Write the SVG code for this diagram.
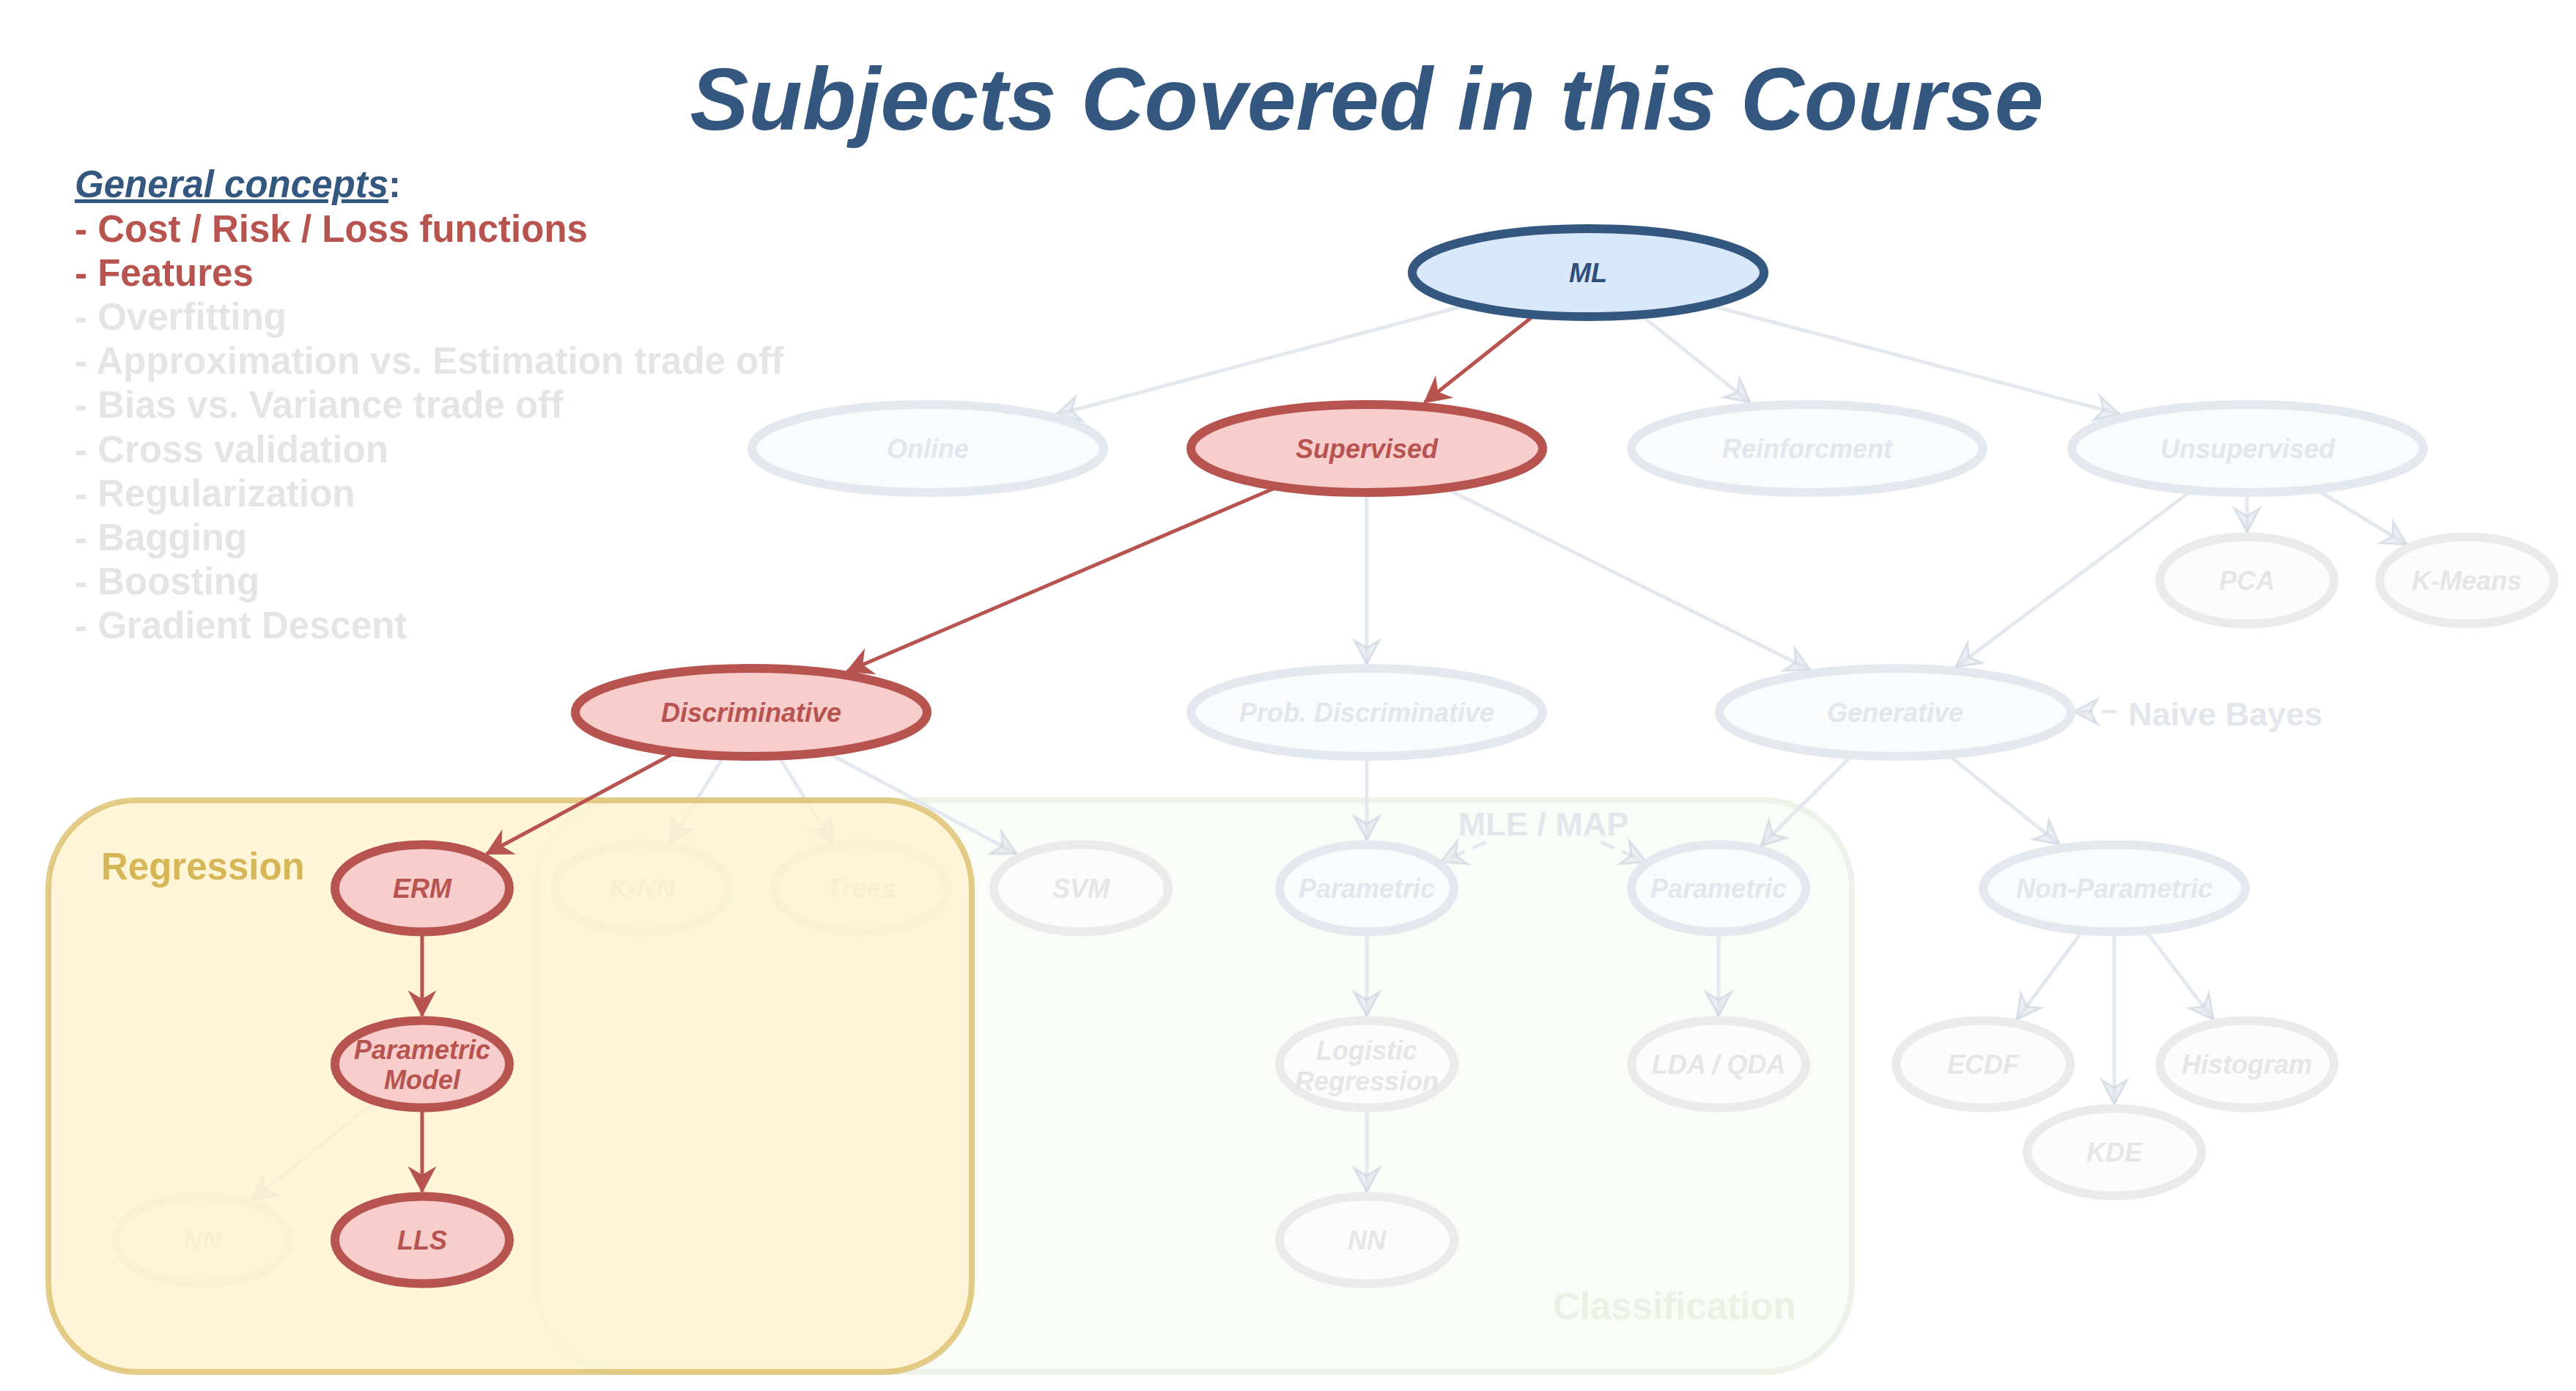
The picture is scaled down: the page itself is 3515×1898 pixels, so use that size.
<svg xmlns="http://www.w3.org/2000/svg" width="3515" height="1898" viewBox="0 0 3515 1898">
<style>
text{font-family:"Liberation Sans",Arial,Helvetica,sans-serif;font-weight:bold}
.lbl{font-size:36px;font-style:italic;text-anchor:middle}
.gc{font-size:51px}
.gcr{fill:#b85450}
.gcg{fill:#e5e5e5}
.red ellipse{fill:#f8cecc;stroke:#b85450;stroke-width:12}
.red text{fill:#b85450}
.blue ellipse{fill:#dae8fc;stroke:#34577f;stroke-width:12}
.blue text{fill:#2f4f79}
.fb ellipse{fill:#f9fbfd;stroke:#e4e9f0;stroke-width:12}
.fb text{fill:#e2e7ee}
.fg ellipse{fill:#fcfcfc;stroke:#ebebeb;stroke-width:12}
.fg text{fill:#e6e6e6}
.e{fill:none;stroke-width:5}
.eg{stroke:#e4e9ef;marker-end:url(#ag)}
.ed{stroke:#e4e9ef;stroke-dasharray:20 12;marker-end:url(#ag)}
.er{stroke:#b85450;marker-end:url(#ar)}
.note{font-size:45px;fill:#e3e7ec}
</style>
<defs>
<marker id="ag" markerUnits="userSpaceOnUse" markerWidth="44" markerHeight="44" viewBox="-38 -22 44 44" refX="0" refY="0" orient="auto">
<path d="M0,0 L-32,-17 L-22,0 L-32,17 Z" fill="#dde3ea" fill-opacity="0.6" stroke="#c8d2dd" stroke-opacity="0.6" stroke-width="3" stroke-linejoin="miter"/>
</marker>
<marker id="ar" markerUnits="userSpaceOnUse" markerWidth="44" markerHeight="44" viewBox="-38 -22 44 44" refX="0" refY="0" orient="auto">
<path d="M0,0 L-32,-17 L-22,0 L-32,17 Z" fill="#b85450" stroke="#b85450" stroke-width="2"/>
</marker>
</defs>
<rect x="0" y="0" width="3515" height="1898" fill="#ffffff"/>

<g id="title">
<text x="1865" y="177" font-size="120" font-style="italic" fill="#34577f" text-anchor="middle">Subjects Covered in this Course</text>
</g>

<g id="general-concepts" class="gc">
<text x="102" y="269" fill="#34577f"><tspan font-style="italic" text-decoration="underline">General concepts</tspan>:</text>
<text x="102" y="329.5" class="gcr">- Cost / Risk / Loss functions</text>
<text x="102" y="389.5" class="gcr">- Features</text>
<text x="102" y="450" class="gcg">- Overfitting</text>
<text x="102" y="510" class="gcg">- Approximation vs. Estimation trade off</text>
<text x="102" y="570" class="gcg">- Bias vs. Variance trade off</text>
<text x="102" y="630.5" class="gcg">- Cross validation</text>
<text x="102" y="690.5" class="gcg">- Regularization</text>
<text x="102" y="751" class="gcg">- Bagging</text>
<text x="102" y="811" class="gcg">- Boosting</text>
<text x="102" y="871" class="gcg">- Gradient Descent</text>
</g>

<g id="classification-box">
<rect x="731" y="1092" width="1796" height="780" rx="120" ry="120" fill="#fafcf8" stroke="#eef3e9" stroke-width="8"/>
<text x="2119" y="1800" font-size="51" fill="#ecf1e6">Classification</text>
</g>

<g id="connectors-faded">
<path class="e eg" d="M2003,416 L1441,566"/>
<path class="e eg" d="M2238,429 L2388,549"/>
<path class="e eg" d="M2331,416 L2892,565"/>
<path class="e eg" d="M1865,672 L1865,906"/>
<path class="e eg" d="M1972,666 L2470,914"/>
<path class="e eg" d="M2991,669 L2669,910"/>
<path class="e eg" d="M3066,672 L3066,726"/>
<path class="e eg" d="M3159,667 L3284,743"/>
<path class="e eg" d="M988,1031 L915,1150"/>
<path class="e eg" d="M1062,1031 L1136,1150"/>
<path class="e eg" d="M1127,1026 L1387,1165"/>
<path class="e eg" d="M1865,1032 L1865,1146"/>
<path class="e eg" d="M2528,1030 L2403,1154"/>
<path class="e eg" d="M2657,1029 L2810,1152"/>
<path class="e eg" d="M2842,1270 L2752,1391"/>
<path class="e eg" d="M2928,1270 L3020,1391"/>
<path class="e eg" d="M2885,1272 L2885,1506"/>
<path class="e eg" d="M513,1502 L344,1637"/>
<path class="e eg" d="M1865,1272 L1865,1386"/>
<path class="e eg" d="M1865,1512 L1865,1626"/>
<path class="e eg" d="M2345,1272 L2345,1386"/>
<path class="e ed" d="M2888,971 L2830,971"/>
<path class="e ed" d="M2028,1149 L1966,1176"/>
<path class="e ed" d="M2184,1149 L2246,1176"/>
</g>

<g id="labels-faded">
<text x="2904" y="990" class="note">Naive Bayes</text>
<text x="2106" y="1140" class="note" text-anchor="middle">MLE / MAP</text>
</g>

<g id="n-online" class="fb"><ellipse cx="1266" cy="612" rx="240" ry="60"/><text class="lbl" x="1266" y="625">Online</text></g>
<g id="n-reinforcment" class="fb"><ellipse cx="2466" cy="612" rx="240" ry="60"/><text class="lbl" x="2466" y="625">Reinforcment</text></g>
<g id="n-unsupervised" class="fb"><ellipse cx="3067" cy="612" rx="240" ry="60"/><text class="lbl" x="3067" y="625">Unsupervised</text></g>
<g id="n-pca" class="fg"><ellipse cx="3066" cy="792" rx="119" ry="59.5"/><text class="lbl" x="3066" y="805">PCA</text></g>
<g id="n-kmeans" class="fg"><ellipse cx="3366" cy="792" rx="119" ry="59.5"/><text class="lbl" x="3366" y="805">K-Means</text></g>
<g id="n-probdisc" class="fb"><ellipse cx="1865" cy="972" rx="240" ry="60"/><text class="lbl" x="1865" y="985">Prob. Discriminative</text></g>
<g id="n-generative" class="fb"><ellipse cx="2586" cy="972" rx="240" ry="60"/><text class="lbl" x="2586" y="985">Generative</text></g>
<g id="n-knn" class="fg"><ellipse cx="876" cy="1212" rx="119" ry="59.5"/><text class="lbl" x="876" y="1225">K-NN</text></g>
<g id="n-trees" class="fg"><ellipse cx="1175" cy="1212" rx="119" ry="59.5"/><text class="lbl" x="1175" y="1225">Trees</text></g>
<g id="n-svm" class="fg"><ellipse cx="1475" cy="1212" rx="119" ry="59.5"/><text class="lbl" x="1475" y="1225">SVM</text></g>
<g id="n-parametric1" class="fb"><ellipse cx="1865" cy="1212" rx="119" ry="59.5"/><text class="lbl" x="1865" y="1225">Parametric</text></g>
<g id="n-parametric2" class="fb"><ellipse cx="2345" cy="1212" rx="119" ry="59.5"/><text class="lbl" x="2345" y="1225">Parametric</text></g>
<g id="n-nonparametric" class="fb"><ellipse cx="2885" cy="1212" rx="179" ry="59.5"/><text class="lbl" x="2885" y="1225">Non-Parametric</text></g>
<g id="n-logistic" class="fg"><ellipse cx="1865" cy="1452" rx="119" ry="59.5"/><text class="lbl" x="1865"><tspan x="1865" y="1446">Logistic</tspan><tspan x="1865" y="1488">Regression</tspan></text></g>
<g id="n-ldaqda" class="fg"><ellipse cx="2345" cy="1452" rx="119" ry="59.5"/><text class="lbl" x="2345" y="1465">LDA / QDA</text></g>
<g id="n-ecdf" class="fg"><ellipse cx="2706" cy="1452" rx="119" ry="59.5"/><text class="lbl" x="2706" y="1465">ECDF</text></g>
<g id="n-histogram" class="fg"><ellipse cx="3066" cy="1452" rx="119" ry="59.5"/><text class="lbl" x="3066" y="1465">Histogram</text></g>
<g id="n-kde" class="fg"><ellipse cx="2885" cy="1572" rx="119" ry="59.5"/><text class="lbl" x="2885" y="1585">KDE</text></g>
<g id="n-nn-class" class="fg"><ellipse cx="1865" cy="1692" rx="119" ry="59.5"/><text class="lbl" x="1865" y="1705">NN</text></g>
<g id="n-nn-reg" class="fg"><ellipse cx="276" cy="1692" rx="119" ry="59.5"/><text class="lbl" x="276" y="1705">NN</text></g>

<g id="regression-box">
<rect x="66" y="1092" width="1260" height="780" rx="120" ry="120" fill="#fff2cc" fill-opacity="0.72" stroke="#d6b656" stroke-opacity="0.68" stroke-width="8"/>
<text x="138" y="1200" font-size="51" fill="#d6b656">Regression</text>
</g>

<g id="connectors-highlighted">
<path class="e er" d="M2095,429 L1944,549"/>
<path class="e er" d="M1744,664 L1156,916"/>
<path class="e er" d="M923,1026 L664,1165"/>
<path class="e er" d="M576,1272 L576,1386"/>
<path class="e er" d="M576,1512 L576,1626"/>
</g>

<g id="n-ml" class="blue"><ellipse cx="2167" cy="372" rx="240" ry="60"/><text class="lbl" x="2167" y="385">ML</text></g>
<g id="n-supervised" class="red"><ellipse cx="1865" cy="612" rx="240" ry="60"/><text class="lbl" x="1865" y="625">Supervised</text></g>
<g id="n-discriminative" class="red"><ellipse cx="1025" cy="972" rx="240" ry="60"/><text class="lbl" x="1025" y="985">Discriminative</text></g>
<g id="n-erm" class="red"><ellipse cx="576" cy="1212" rx="119" ry="59.5"/><text class="lbl" x="576" y="1225">ERM</text></g>
<g id="n-parammodel" class="red"><ellipse cx="576" cy="1452" rx="119" ry="59.5"/><text class="lbl" x="576"><tspan x="576" y="1445">Parametric</tspan><tspan x="576" y="1486">Model</tspan></text></g>
<g id="n-lls" class="red"><ellipse cx="576" cy="1692" rx="119" ry="59.5"/><text class="lbl" x="576" y="1705">LLS</text></g>
</svg>
